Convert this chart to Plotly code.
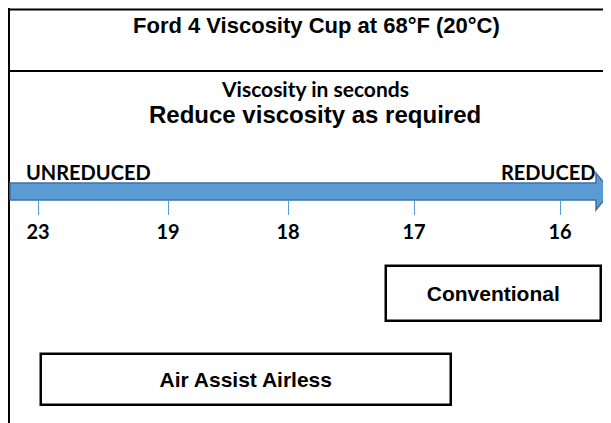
import numpy as np
import plotly.graph_objects as go

# ---------------- data ----------------
title_text = "Ford 4 Viscosity Cup at 68°F (20°C)"
subtitle_small = "Viscosity in seconds"
subtitle_big = "Reduce viscosity as required"
left_label = "UNREDUCED"
right_label = "REDUCED"
scale_seconds = [23, 19, 18, 17, 16]
scale_labels = ["23", "19", "18", "17", "16"]
methods = ["Conventional", "Air Assist Airless"]
method_from_sec = [17.22, 22.91]   # start of range (seconds)
method_to_sec = [15.72, 16.75]     # end of range (seconds)

# ---------------- layout constants ----------------
W, H = 611, 423          # window size
OFF = 8                  # page body margin offset
tick_pos = [38, 168, 288, 414, 560]      # axis positions of scale marks
row_center = [293.5, 379.5]
row_height = [55, 51]
ARIAL = "Liberation Sans, Arial, sans-serif"
CALIBRI = "Lato, Carlito, Calibri, sans-serif"
BLUE = "#5B9BD5"
BLUE_DARK = "#41719C"


def sec_to_pos(s):
    xs = np.array(scale_seconds[::-1], float)
    ps = np.array(tick_pos[::-1], float)
    if s < xs[0]:
        slope = (ps[1] - ps[0]) / (xs[1] - xs[0])
        return float(ps[0] + (s - xs[0]) * slope)
    if s > xs[-1]:
        slope = (ps[-1] - ps[-2]) / (xs[-1] - xs[-2])
        return float(ps[-1] + (s - xs[-1]) * slope)
    return float(np.interp(s, xs, ps))


starts = [sec_to_pos(s) for s in method_from_sec]
ends = [sec_to_pos(s) for s in method_to_sec]
lengths = [e - s for s, e in zip(starts, ends)]

fig = go.Figure()
fig.add_trace(go.Bar(
    orientation="h",
    y=row_center,
    x=lengths,
    base=starts,
    width=row_height,
    marker=dict(color="white", line=dict(color="black", width=2.5)),
    text=methods,
    textposition="inside",
    insidetextanchor="middle",
    textangle=0,
    textfont=dict(family=ARIAL, size=21, color="black", weight="bold"),
    hoverinfo="skip",
    showlegend=False,
))

shapes = [
    dict(type="line", x0=9, x1=9, y0=8, y1=H, line=dict(color="black", width=2)),
    dict(type="line", x0=8, x1=W, y0=9.5, y1=9.5, line=dict(color="black", width=2)),
    dict(type="line", x0=8, x1=W, y0=71, y1=71, line=dict(color="black", width=2)),
    dict(type="path",
         path="M 10,183 L 596,183 L 596,173 L 611,191.5 L 596,210 L 596,200 L 10,200 Z",
         fillcolor=BLUE, line=dict(color=BLUE_DARK, width=1.5)),
]
for s in shapes:
    s.setdefault("xref", "x")
    s.setdefault("yref", "y")

annotations = [
    dict(x=316, y=25, text=title_text, font=dict(family=ARIAL, size=22, color="black", weight="bold")),
    dict(x=315, y=88, text=subtitle_small, font=dict(family=CALIBRI, size=21, color="black", weight="bold")),
    dict(x=315, y=114, text=subtitle_big, font=dict(family=ARIAL, size=24, color="black", weight="bold")),
    dict(x=24, y=172, text=left_label, xanchor="left", font=dict(family=CALIBRI, size=20, color="black", weight="bold")),
    dict(x=597, y=172, text=right_label, xanchor="right", font=dict(family=CALIBRI, size=20, color="black", weight="bold")),
]
for a in annotations:
    a.update(xref="x", yref="y", showarrow=False)
    a.setdefault("xanchor", "center")
    a["yanchor"] = "middle"

fig.update_layout(
    width=W - OFF, height=H - OFF,
    margin=dict(l=0, r=0, t=0, b=0),
    paper_bgcolor="white", plot_bgcolor="white",
    shapes=shapes, annotations=annotations,
    bargap=0,
    xaxis=dict(range=[OFF, W], anchor="free", position=(H - 200) / (H - OFF),
               showgrid=False, zeroline=False, showline=False,
               ticks="outside", ticklen=14, tickwidth=1.2, tickcolor=BLUE,
               tickvals=tick_pos, ticktext=scale_labels,
               tickfont=dict(family=CALIBRI, size=20, color="black", weight="bold"),
               fixedrange=True),
    yaxis=dict(range=[H, OFF], domain=[0, 1], visible=False, fixedrange=True),
)

fig.write_html("out.html")
